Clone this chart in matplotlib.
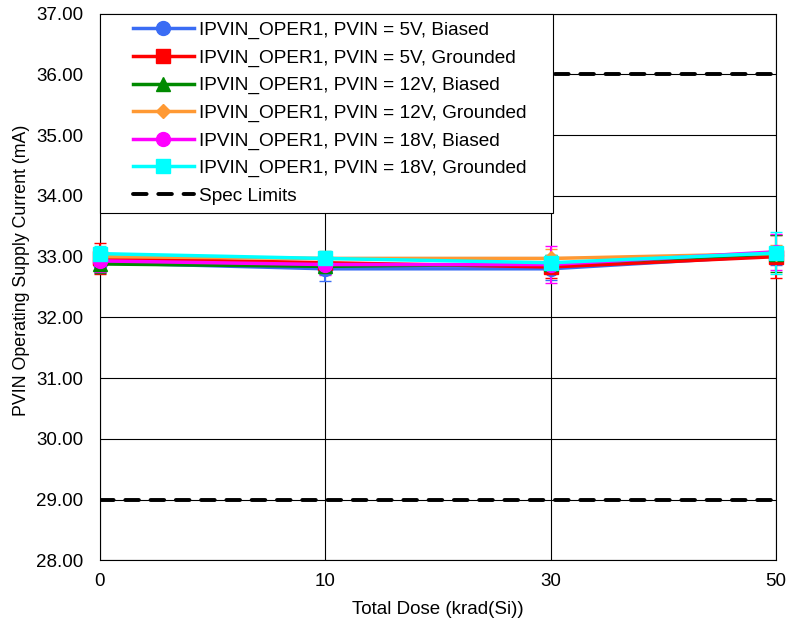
import matplotlib
matplotlib.use("Agg")
import matplotlib.pyplot as plt
from matplotlib.legend_handler import HandlerLine2D
import numpy as np

plt.rcParams['font.family'] = ['Liberation Sans', 'DejaVu Sans']

dose_labels = ["0", "10", "30", "50"]

labels = [
    "IPVIN_OPER1, PVIN = 5V, Biased",
    "IPVIN_OPER1, PVIN = 5V, Grounded",
    "IPVIN_OPER1, PVIN = 12V, Biased",
    "IPVIN_OPER1, PVIN = 12V, Grounded",
    "IPVIN_OPER1, PVIN = 18V, Biased",
    "IPVIN_OPER1, PVIN = 18V, Grounded",
]
colors = ["#3a6cf4", "#ff0000", "#008a00", "#ff9933", "#ff00ff", "#00ffff"]
markers = ["o", "s", "^", "D", "o", "s"]
marker_sizes = [10, 9.5, 9.5, 7.5, 10, 9.5]

values = [
    [32.90, 32.80, 32.80, 33.02],
    [32.97, 32.90, 32.83, 33.00],
    [32.88, 32.84, 32.88, 33.05],
    [33.00, 32.97, 32.97, 33.05],
    [32.93, 32.87, 32.87, 33.08],
    [33.05, 32.97, 32.90, 33.06],
]
errors = [
    [0.15, 0.20, 0.18, 0.15],
    [0.25, 0.15, 0.18, 0.35],
    [0.15, 0.12, 0.15, 0.30],
    [0.12, 0.12, 0.15, 0.15],
    [0.18, 0.18, 0.30, 0.30],
    [0.12, 0.12, 0.12, 0.35],
]

spec_upper = 36.0
spec_lower = 29.0


class OffsetLineHandler(HandlerLine2D):
    """Legend line handle drawn with some blank space on its left."""
    def __init__(self, offset=1.3, **kw):
        super().__init__(**kw)
        self.offset = offset

    def create_artists(self, legend, orig_handle, xdescent, ydescent,
                       width, height, fontsize, trans):
        off = self.offset * fontsize
        return super().create_artists(legend, orig_handle, xdescent - off, ydescent,
                                      width - off, height, fontsize, trans)


fig = plt.figure(figsize=(7.87, 6.26), dpi=100)
ax = fig.add_axes([0.127, 0.105, 0.859, 0.873])

x = np.arange(len(dose_labels))
handles = []
for lab, col, mk, ms, v, e in zip(labels, colors, markers, marker_sizes, values, errors):
    ax.errorbar(x, v, yerr=e, fmt="none", ecolor=col, elinewidth=1.5, capsize=4,
                zorder=3, clip_on=False)
    h, = ax.plot(x, v, color=col, marker=mk, markersize=ms, linewidth=2.5,
                 label=lab, zorder=4, clip_on=False)
    handles.append(h)

dash = (0, (3.5, 3.0))
spec, = ax.plot(x, [spec_upper] * len(x), color="black", linestyle=dash, linewidth=2.8,
                dash_capstyle="round", label="Spec Limits", zorder=2)
ax.plot(x, [spec_lower] * len(x), color="black", linestyle=dash, linewidth=2.8,
        dash_capstyle="round", zorder=2)
handles.append(spec)

ax.set_xlim(0, len(x) - 1)
ax.set_ylim(28, 37)
ax.set_xticks(x)
ax.set_xticklabels(dose_labels)
yt = np.arange(28, 37.5, 1.0)
ax.set_yticks(yt)
ax.set_yticklabels([f"{t:.2f}" for t in yt])
ax.tick_params(axis="y", labelsize=13.5, length=0, pad=12)
ax.tick_params(axis="x", labelsize=13.5, length=0, pad=9)

ax.grid(True, color="black", linewidth=0.8)
ax.set_axisbelow(True)
for s in ax.spines.values():
    s.set_color("black")
    s.set_linewidth(0.8)

ax.set_xlabel("Total Dose (krad(Si))", fontsize=13.5, labelpad=8)
ax.set_ylabel("PVIN Operating Supply Current (mA)", fontsize=12.8, labelpad=8)
ax.yaxis.set_label_coords(-0.104, 0.53)

leg = ax.legend(handles=handles, loc="upper left", bbox_to_anchor=(0, 1, 0.67, 0),
                mode="expand", fontsize=13.7, handlelength=4.5,
                frameon=True, fancybox=False, edgecolor="black", borderaxespad=0.0,
                labelspacing=0.53, borderpad=0.42, handletextpad=0.3,
                handler_map={h: OffsetLineHandler(offset=1.3) for h in handles})
leg.get_frame().set_linewidth(0.8)
leg.get_frame().set_alpha(1)
leg.set_zorder(5)

fig.savefig("out.png", dpi=100)
